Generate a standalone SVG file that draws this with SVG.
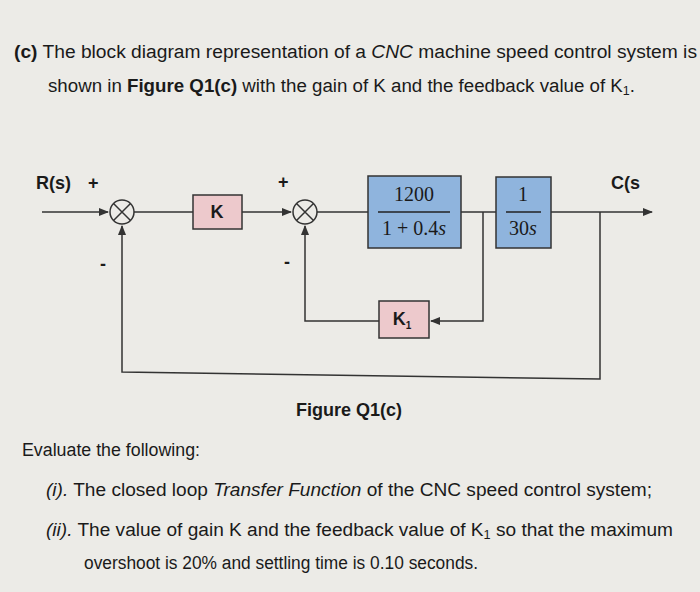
<svg xmlns="http://www.w3.org/2000/svg" width="700" height="592" viewBox="0 0 700 592">
<style>
text{font-family:"Liberation Sans",Arial,sans-serif;fill:#1a1a1a}
.t{font-size:18px}
.m{font-family:"Liberation Serif","Times New Roman",serif;font-size:20px}
.b{font-weight:bold}
.pink{fill:#edc9cc;stroke:#333;stroke-width:1.5}
.blue{fill:#8fb4dd;stroke:#333;stroke-width:1.5}
.ln{fill:none;stroke:#333;stroke-width:1.5}
</style>
<defs><marker id="a" viewBox="0 0 10 10" refX="9" refY="5" markerWidth="7" markerHeight="7" orient="auto"><path d="M0,1 L10,5 L0,9 z" fill="#333"/></marker></defs>
<rect width="700" height="592" fill="#ecebe7"/>
<text class="t" x="14" y="58" textLength="683" lengthAdjust="spacingAndGlyphs"><tspan class="b">(c)</tspan> The block diagram representation of a <tspan font-style="italic">CNC</tspan> machine speed control system is</text>
<text class="t" x="48" y="92" textLength="587" lengthAdjust="spacingAndGlyphs">shown in <tspan class="b">Figure Q1(c)</tspan> with the gain of K and the feedback value of K<tspan font-size="12" dy="3">1</tspan><tspan dy="-3">.</tspan></text>
<g id="connectors" class="ln">
<path d="M42,212 H108" marker-end="url(#a)"/>
<path d="M134,212 H193"/>
<path d="M242,212 H291" marker-end="url(#a)"/>
<path d="M317,212 H368"/>
<path d="M461,212 H496"/>
<path d="M551,212 H652" marker-end="url(#a)"/>
<path d="M483,212 V321 H431" marker-end="url(#a)"/>
<path d="M379,321 H305 V226" marker-end="url(#a)"/>
<path d="M600,212 V379 L122,372 V226" marker-end="url(#a)"/>
</g>
<g id="sum1"><circle cx="122" cy="212" r="12" fill="none" stroke="#333" stroke-width="1.5"/><path d="M113.5,203.5 L130.5,220.5 M130.5,203.5 L113.5,220.5" stroke="#333" stroke-width="1.5"/></g>
<g id="sum2"><circle cx="305" cy="212" r="12" fill="none" stroke="#333" stroke-width="1.5"/><path d="M296.5,203.5 L313.5,220.5 M313.5,203.5 L296.5,220.5" stroke="#333" stroke-width="1.5"/></g>
<g id="K"><rect class="pink" x="193" y="195" width="49" height="34"/><text class="t b" x="217" y="218" text-anchor="middle" font-size="16">K</text></g>
<g id="G1"><rect class="blue" x="368" y="176" width="93" height="72"/><text class="m" x="414" y="201" text-anchor="middle">1200</text><path d="M378,212 H450" stroke="#222" stroke-width="1.5"/><text class="m" x="414" y="235" text-anchor="middle">1 + 0.4<tspan font-style="italic">s</tspan></text></g>
<g id="G2"><rect class="blue" x="496" y="177" width="55" height="71"/><text class="m" x="523" y="201" text-anchor="middle">1</text><path d="M506,212 H541" stroke="#222" stroke-width="1.5"/><text class="m" x="523" y="235" text-anchor="middle">30<tspan font-style="italic">s</tspan></text></g>
<g id="K1"><rect class="pink" x="379" y="301" width="50" height="37"/><text class="t b" x="402" y="325" text-anchor="middle" font-size="16">K<tspan font-size="10" dy="4">1</tspan></text></g>
<g id="labels">
<text class="t b" x="36" y="189" font-size="16">R(s)</text>
<text class="t b" x="88" y="189" font-size="16">+</text>
<text class="t b" x="100" y="270" font-size="16">-</text>
<text class="t b" x="278" y="188" font-size="16">+</text>
<text class="t b" x="284" y="268" font-size="16">-</text>
<text class="t b" x="611" y="189" font-size="16">C(s</text>
</g>
<text class="t b" x="349" y="416" text-anchor="middle" font-size="17">Figure Q1(c)</text>
<text class="t" x="22" y="456" textLength="178" lengthAdjust="spacingAndGlyphs">Evaluate the following:</text>
<text class="t" x="46" y="496" textLength="606" lengthAdjust="spacingAndGlyphs"><tspan font-style="italic">(i).</tspan>  The closed loop <tspan font-style="italic">Transfer Function</tspan> of the CNC speed control system;</text>
<text class="t" x="46" y="536" textLength="627" lengthAdjust="spacingAndGlyphs"><tspan font-style="italic">(ii).</tspan>  The value of gain K and the feedback value of K<tspan font-size="12" dy="3">1</tspan><tspan dy="-3"> so that the maximum</tspan></text>
<text class="t" x="84" y="569" textLength="394" lengthAdjust="spacingAndGlyphs">overshoot is 20% and settling time is 0.10 seconds.</text>
</svg>
